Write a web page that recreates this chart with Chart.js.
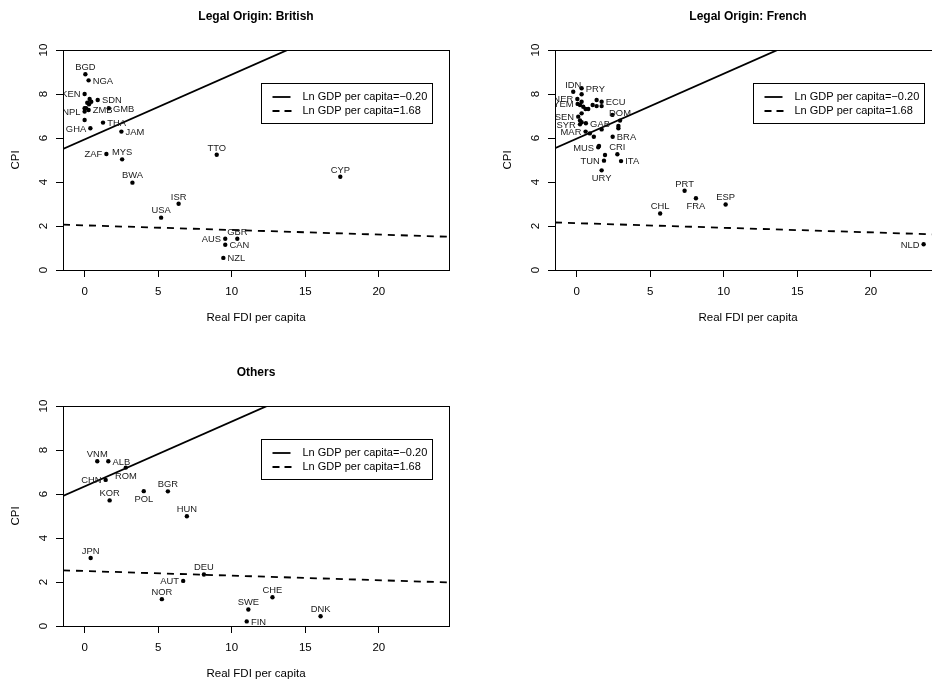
<!DOCTYPE html>
<html>
<head>
<meta charset="utf-8">
<script src="https://cdn.jsdelivr.net/npm/chart.js@4.4.1/dist/chart.umd.min.js"></script>
<style>
html,body{margin:0;padding:0;background:#fff;overflow:hidden;width:932px;height:684px;}
#wrap{position:relative;width:932px;height:684px;overflow:hidden;background:#fff;}
canvas{position:absolute;}
</style>
</head>
<body>
<div id="wrap">
<canvas id="c1" width="466" height="342" style="left:0px;top:0px;width:466px;height:342px"></canvas>
<canvas id="c2" width="466" height="342" style="left:492px;top:0px;width:466px;height:342px"></canvas>
<canvas id="c3" width="466" height="342" style="left:0px;top:356px;width:466px;height:342px"></canvas>
</div>
<script>
// ---------- data ----------
const xTicks = [0, 5, 10, 15, 20];
const yTicks = [0, 2, 4, 6, 8, 10];
const xRange = [-1.47, 24.77];
const yRange = [0, 10];
const xTitle = 'Real FDI per capita';
const yTitle = 'CPI';
const legendLabels = ['Ln GDP per capita=\u22120.20', 'Ln GDP per capita=1.68'];
const legendAt = [12, 8.5];

// British
const britCountries = ['BGD','NGA','KEN','SDN','','','','','NPL','','','ZMB','GMB','','GHA','THA','JAM','ZAF','MYS','BWA','TTO','CYP','ISR','USA','GBR','AUS','CAN','NZL'];
const britFDI = [0.05,0.27,0.0,0.89,0.34,0.45,0.18,0.30,0.0,0.0,0.10,0.27,1.64,0.0,0.39,1.25,2.50,1.48,2.55,3.25,8.98,17.38,6.39,5.20,10.38,9.56,9.56,9.43];
const britCPI = [8.90,8.62,8.00,7.73,7.77,7.65,7.60,7.53,7.20,7.35,7.35,7.27,7.35,6.82,6.44,6.70,6.29,5.27,5.03,3.97,5.24,4.24,3.01,2.38,1.42,1.42,1.15,0.55];
const britPos = [3,4,2,4,0,0,0,0,2,0,0,4,4,0,2,4,4,2,3,3,3,3,3,3,3,2,4,4];
const britSolid = [5.50, 13.24];
const britDashed = [2.06, 1.51];

// French
const frCountries = ['IDN','PRY','','NER','YEM','','','','','','','ECU','','','','','SEN','','','SYR','GAB','','DOM','','','','MAR','','','BRA','MUS','','CRI','','TUN','ITA','URY','CHL','PRT','FRA','ESP','NLD'];
const frFDI = [-0.23,0.34,0.34,0.05,0.07,0.34,0.23,0.45,0.61,0.79,1.36,1.70,1.09,1.36,1.70,0.34,0.11,0.23,0.34,0.23,0.63,2.43,2.95,2.84,2.84,1.70,0.61,0.90,1.17,2.45,1.47,1.52,2.77,1.93,1.86,3.02,1.70,5.68,7.34,8.11,10.13,23.59];
const frCPI = [8.10,8.26,7.99,7.77,7.55,7.65,7.50,7.42,7.32,7.32,7.73,7.65,7.50,7.45,7.45,7.12,6.97,6.80,6.72,6.62,6.67,7.05,6.79,6.55,6.44,6.39,6.29,6.21,6.06,6.06,5.58,5.64,5.26,5.23,4.97,4.95,4.53,2.57,3.60,3.26,2.98,1.17];
const frPos = [3,4,0,2,2,0,0,0,0,0,0,4,0,0,0,0,2,0,0,2,4,0,3,0,0,0,2,0,0,4,2,0,3,0,2,4,1,3,3,1,3,2];
const frSolid = [5.54, 13.28];
const frDashed = [2.16, 1.61];

// Others
const othCountries = ['VNM','ALB','ROM','CHN','KOR','POL','BGR','HUN','JPN','DEU','AUT','NOR','SWE','CHE','FIN','DNK'];
const othFDI = [0.86,1.61,2.80,1.43,1.70,4.02,5.66,6.95,0.41,8.11,6.70,5.25,11.13,12.77,11.02,16.04];
const othCPI = [7.49,7.49,7.20,6.64,5.71,6.13,6.12,4.99,3.09,2.34,2.05,1.22,0.75,1.31,0.21,0.44];
const othPos = [3,4,1,2,3,1,3,3,3,3,2,3,3,3,4,3];
const othSolid = [5.91, 13.65];
const othDashed = [2.53, 1.98];

// ---------- drawing ----------
const FONT = '"Liberation Sans", Arial, Helvetica, sans-serif';
Chart.defaults.font.family = FONT;
Chart.defaults.color = '#000';

const rPlot = {
  id: 'rPlot',
  afterDatasetsDraw(chart, args, opts) {
    const {ctx, chartArea: a, scales: {x, y}} = chart;
    // point labels
    const meta = chart.getDatasetMeta(0);
    ctx.save();
    ctx.beginPath();
    ctx.rect(a.left, a.top, a.right - a.left, a.bottom - a.top);
    ctx.clip();
    const fs = 9.4;
    ctx.font = fs + 'px ' + FONT;
    ctx.fillStyle = '#1a1a1a';
    ctx.textBaseline = 'alphabetic';
    const cap = fs * 0.716, off = 4.2;
    meta.data.forEach((el, i) => {
      const lab = opts.labels[i];
      if (!lab) return;
      const p = opts.pos[i];
      let tx = el.x, ty = el.y;
      if (p === 3) { ctx.textAlign = 'center'; ty = el.y - off; }
      else if (p === 1) { ctx.textAlign = 'center'; ty = el.y + off + cap; }
      else if (p === 2) { ctx.textAlign = 'right'; tx = el.x - off; ty = el.y + cap / 2; }
      else { ctx.textAlign = 'left'; tx = el.x + off; ty = el.y + cap / 2; }
      ctx.fillText(lab, tx, ty);
    });
    ctx.restore();

    // legend
    const lx = Math.round(x.getPixelForValue(legendAt[0])) + 0.5;
    const ly = Math.round(y.getPixelForValue(legendAt[1])) + 0.5;
    const lw = 171, lh = 40;
    ctx.save();
    ctx.fillStyle = '#fff';
    ctx.fillRect(lx, ly, lw, lh);
    ctx.strokeStyle = '#000';
    ctx.lineWidth = 1;
    ctx.strokeRect(lx, ly, lw, lh);
    ctx.font = '11px ' + FONT;
    ctx.fillStyle = '#000';
    ctx.textAlign = 'left';
    ctx.textBaseline = 'middle';
    const rows = [ly + 13.5, ly + 27.5];
    ctx.lineWidth = 1.8;
    ctx.beginPath(); ctx.setLineDash([]);
    ctx.moveTo(lx + 11, rows[0]); ctx.lineTo(lx + 29, rows[0]); ctx.stroke();
    ctx.beginPath(); ctx.setLineDash([7, 5]);
    ctx.moveTo(lx + 11, rows[1]); ctx.lineTo(lx + 30, rows[1]); ctx.stroke();
    ctx.setLineDash([]);
    ctx.fillText(legendLabels[0], lx + 41, rows[0]);
    ctx.fillText(legendLabels[1], lx + 41, rows[1]);
    ctx.restore();
  },
  afterDraw(chart) {
    const {ctx, chartArea: a, scales: {y}} = chart;
    ctx.save();
    ctx.strokeStyle = '#000';
    ctx.lineWidth = 1;
    ctx.strokeRect(Math.round(a.left) + 0.5, Math.round(a.top) + 0.5, Math.round(a.right - a.left), Math.round(a.bottom - a.top));
    // rotated y tick labels (R style)
    ctx.font = '11.5px ' + FONT;
    ctx.fillStyle = '#000';
    ctx.textAlign = 'center';
    ctx.textBaseline = 'middle';
    y.ticks.forEach(t => {
      ctx.save();
      ctx.translate(a.left - 19, y.getPixelForValue(t.value));
      ctx.rotate(-Math.PI / 2);
      ctx.fillText(String(t.value), 0, 0);
      ctx.restore();
    });
    ctx.restore();
  }
};

function makeChart(id, title, fdi, cpi, labels, pos, solid, dashed) {
  const pts = fdi.map((v, i) => ({x: v, y: cpi[i]}));
  new Chart(document.getElementById(id), {
    type: 'scatter',
    data: {
      datasets: [
        {type: 'scatter', data: pts, pointRadius: 2.2, pointBackgroundColor: '#000', pointBorderWidth: 0, pointHoverRadius: 2.2},
        {type: 'line', data: [{x: xRange[0], y: solid[0]}, {x: xRange[1], y: solid[1]}], borderColor: '#000', borderWidth: 1.8, pointRadius: 0, fill: false},
        {type: 'line', data: [{x: xRange[0], y: dashed[0]}, {x: xRange[1], y: dashed[1]}], borderColor: '#000', borderWidth: 1.8, borderDash: [7, 6], pointRadius: 0, fill: false}
      ]
    },
    options: {
      responsive: false,
      animation: false,
      devicePixelRatio: 1,
      events: [],
      layout: {padding: {left: 0, right: 17, top: 0, bottom: 0}},
      plugins: {
        legend: {display: false},
        tooltip: {enabled: false},
        title: {display: true, text: title, fullSize: false, color: '#000',
          font: {size: 12, weight: 'bold', family: FONT}, padding: {top: 9.8, bottom: 25.8}},
        rPlot: {labels: labels, pos: pos}
      },
      scales: {
        x: {
          type: 'linear', min: xRange[0], max: xRange[1],
          afterBuildTicks: s => { s.ticks = xTicks.map(v => ({value: v})); },
          afterFit: s => { s.height = 72; },
          grid: {drawOnChartArea: false, drawTicks: true, tickLength: 7, color: '#000', lineWidth: 1},
          border: {display: true, color: '#000', width: 1},
          ticks: {font: {size: 11.5, family: FONT}, color: '#000', padding: 8, maxRotation: 0, minRotation: 0},
          title: {display: true, text: xTitle, color: '#000', font: {size: 11.5, family: FONT}, padding: {top: 0, bottom: 17}}
        },
        y: {
          type: 'linear', min: yRange[0], max: yRange[1],
          afterBuildTicks: s => { s.ticks = yTicks.map(v => ({value: v})); },
          afterFit: s => { s.width = 63; },
          grid: {drawOnChartArea: false, drawTicks: true, tickLength: 7, color: '#000', lineWidth: 1},
          border: {display: true, color: '#000', width: 1},
          ticks: {display: false},
          title: {display: true, text: yTitle, color: '#000', font: {size: 11.5, family: FONT}, padding: {top: 9, bottom: 0}}
        }
      }
    },
    plugins: [rPlot]
  });
}

makeChart('c1', 'Legal Origin: British', britFDI, britCPI, britCountries, britPos, britSolid, britDashed);
makeChart('c2', 'Legal Origin: French', frFDI, frCPI, frCountries, frPos, frSolid, frDashed);
makeChart('c3', 'Others', othFDI, othCPI, othCountries, othPos, othSolid, othDashed);
</script>
</body>
</html>
